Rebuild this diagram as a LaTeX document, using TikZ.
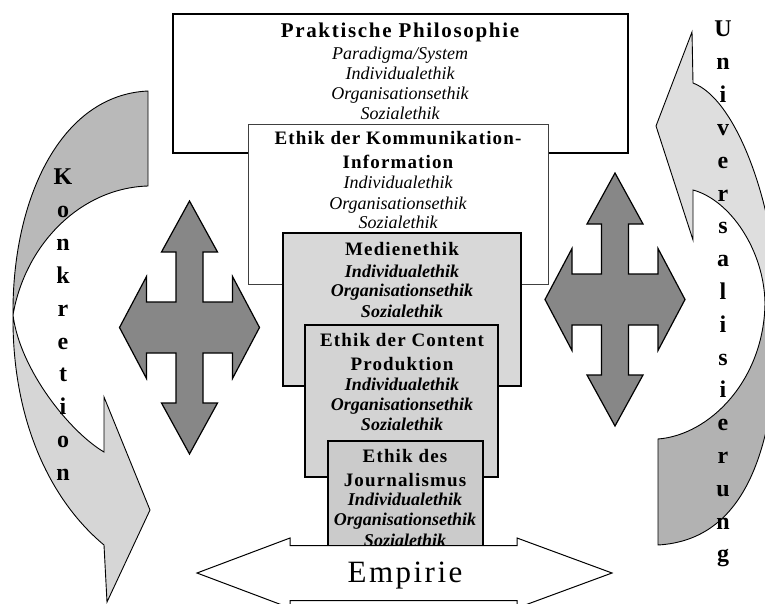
\documentclass[tikz,border=0pt]{standalone}
\usepackage{fontspec}
\setmainfont{Liberation Serif}
\newfontfamily\lsTitle[LetterSpace=8]{Liberation Serif}
\newfontfamily\lsHead[LetterSpace=6]{Liberation Serif}
\newfontfamily\lsEmp[LetterSpace=8]{Liberation Serif}
\definecolor{crossgray}{HTML}{878787}
\definecolor{backL}{HTML}{B9B9B9}
\definecolor{frontL}{HTML}{D6D6D6}
\definecolor{frontR}{HTML}{DEDEDE}
\definecolor{backR}{HTML}{B2B2B2}
\definecolor{medfill}{HTML}{D8D8D8}
\definecolor{confill}{HTML}{D3D3D3}
\definecolor{jourfill}{HTML}{CBCBCB}
\tikzset{
  boxbase/.style={rectangle, inner sep=0pt, outer sep=0pt},
  topbox/.style={boxbase, draw=black, line width=1.8pt, fill=white},
  ethbox/.style={boxbase, draw=black!75, line width=0.8pt, fill=white},
  greybox/.style={boxbase, draw=black, line width=1.1pt},
  titletxt/.style={font=\lsTitle\bfseries\fontsize{21}{24}\selectfont, anchor=base, inner sep=0pt},
  headtxt/.style={font=\lsHead\bfseries\fontsize{19}{22}\selectfont, anchor=base, inner sep=0pt},
  ittxt/.style={font=\itshape\fontsize{18}{20}\selectfont, anchor=base, inner sep=0pt},
  bittxt/.style={font=\bfseries\itshape\fontsize{18}{20}\selectfont, anchor=base, inner sep=0pt},
  emptxt/.style={font=\lsEmp\fontsize{31}{34}\selectfont, anchor=base, inner sep=0pt},
  vlet/.style={font=\bfseries\fontsize{24}{24}\selectfont, anchor=base, inner sep=0pt},
  crossstyle/.style={draw=black, line width=1.2pt, fill=crossgray, line join=miter},
  bandline/.style={draw=black, line width=0.9pt, line join=miter},
  quadarr/.pic={
    \path[crossstyle] (0,-126.5) -- (28,-75.5) -- (13.5,-75.5) -- (13.5,-25.5)
      -- (43,-25.5) -- (43,-51) -- (70,0) -- (43,51) -- (43,25.5) -- (13.5,25.5)
      -- (13.5,75.5) -- (28,75.5) -- (0,126.5) -- (-28,75.5) -- (-13.5,75.5)
      -- (-13.5,25.5) -- (-43,25.5) -- (-43,51) -- (-70,0) -- (-43,-51)
      -- (-43,-25.5) -- (-13.5,-25.5) -- (-13.5,-75.5) -- (-28,-75.5) -- cycle;
  }
}
\begin{document}
\begin{tikzpicture}[x=1pt,y=-1pt]
\useasboundingbox (0,0) rectangle (765,604);
\clip (0,0) rectangle (765,604);

% ---------- left curved arrow (Konkretion) ----------
\path[bandline, fill=backL] (148,91) .. controls (60,95) and (12,200) .. (13,315)
   .. controls (25,245) and (80,188) .. (148,186) -- cycle;
\path[bandline, fill=frontL] (13,315) .. controls (12,420) and (50,500) .. (104,545)
   -- (107,602) -- (150,510) -- (104,397) -- (104,452)
   .. controls (70,432) and (20,370) .. (13,315) -- cycle;

% ---------- right curved arrow (Universalisierung) ----------
\path[bandline, fill=backR] (765,303) -- (778,305) .. controls (778,450) and (745,540) .. (658,545)
   -- (658,439) .. controls (710,435) and (764,380) .. (765,303) -- cycle;
\path[bandline, fill=frontR] (693,83) .. controls (738,100) and (776,210) .. (778,305)
   -- (765,303) .. controls (764,250) and (730,200) .. (693,190)
   -- (693,240) -- (656,126) -- (692,32) -- cycle;

% ---------- crosses ----------
\pic (crossL) at (189.5,327.5) {quadarr};
\pic (crossR) at (615,299.5) {quadarr};

% ---------- boxes ----------
\node[topbox, minimum width=455pt, minimum height=139pt] (pp) at (400.5,83.5) {};
\node[titletxt] (ppT) at (400,38) {Praktische Philosophie};
\node[ittxt] (pp1) at (400,60) {Paradigma/System};
\node[ittxt] (pp2) at (400,80) {Individualethik};
\node[ittxt] (pp3) at (400,100) {Organisationsethik};
\node[ittxt] (pp4) at (400,120) {Sozialethik};

\node[ethbox, minimum width=300pt, minimum height=160pt] (ek) at (398,204) {};
\node[headtxt] (ekT1) at (398,145) {Ethik der Kommunikation-};
\node[headtxt] (ekT2) at (398,168) {Information};
\node[ittxt] (ek1) at (398,189) {Individualethik};
\node[ittxt] (ek2) at (398,209) {Organisationsethik};
\node[ittxt] (ek3) at (398,228) {Sozialethik};

\node[greybox, fill=medfill, minimum width=238pt, minimum height=153pt] (me) at (402,309.5) {};
\node[headtxt] (meT) at (402,255) {Medienethik};
\node[bittxt] (me1) at (402,277) {Individualethik};
\node[bittxt] (me2) at (402,296) {Organisationsethik};
\node[bittxt] (me3) at (402,317) {Sozialethik};

\node[greybox, fill=confill, minimum width=193pt, minimum height=152pt] (cp) at (401.5,401) {};
\node[headtxt] (cpT1) at (402,346) {Ethik der Content};
\node[headtxt] (cpT2) at (402,370) {Produktion};
\node[bittxt] (cp1) at (402,390) {Individualethik};
\node[bittxt] (cp2) at (402,410) {Organisationsethik};
\node[bittxt] (cp3) at (402,430) {Sozialethik};

\node[greybox, fill=jourfill, minimum width=155pt, minimum height=130pt] (jo) at (405.5,506) {};
\node[headtxt] (joT1) at (405,462) {Ethik des};
\node[headtxt] (joT2) at (405,486) {Journalismus};
\node[bittxt] (jo1) at (405,505) {Individualethik};
\node[bittxt] (jo2) at (405,525) {Organisationsethik};
\node[bittxt] (jo3) at (405,546) {Sozialethik};

% ---------- Empirie double arrow ----------
\path[draw=black, line width=1pt, fill=white, line join=miter]
  (197,573) -- (290,538) -- (290,545.5) -- (517,545.5) -- (517,538) -- (612,573)
  -- (517,608) -- (517,600.5) -- (290,600.5) -- (290,608) -- cycle;
\node[emptxt] (emp) at (405,582) {Empirie};

% ---------- vertical words ----------
\foreach [count=\i] \l in {K,o,n,k,r,e,t,i,o,n}
  \node[vlet] (kon\i) at (63,{185+32.8*(\i-1)}) {\l};
\foreach [count=\i] \l in {U,n,i,v,e,r,s,a,l,i,s,i,e,r,u,n,g}
  \node[vlet] (uni\i) at (723,{37+32.8*(\i-1)}) {\l};
\end{tikzpicture}
\end{document}
